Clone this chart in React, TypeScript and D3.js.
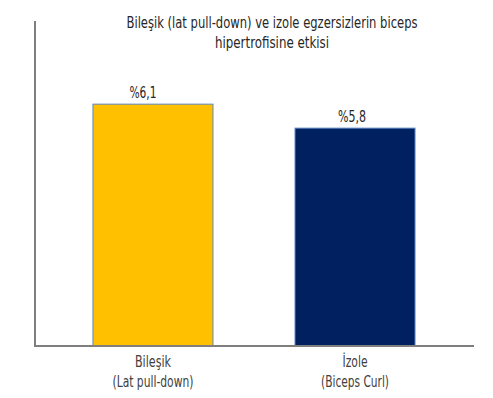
import React from "react";
import * as d3 from "d3";

const categories: string[][] = [["Bileşik", "(Lat pull-down)"], ["İzole", "(Biceps Curl)"]];
const values: number[] = [6.1, 5.8];
const valueLabels: string[] = ["%6,1", "%5,8"];
const colors: string[] = ["#FFC000", "#002060"];
const titleLines: string[] = ["Bileşik (lat pull-down) ve izole egzersizlerin biceps", "hipertrofisine etkisi"];

const W = 493;
const H = 398;
const FONT = "'DejaVu Sans Condensed', 'Liberation Sans Narrow', sans-serif";

// measured text widths for the condensed typeface of the original
const titleWidths = [291, 114];
const catWidths = [[36, 81], [25, 68]];
const valueWidths = [27, 28];
const valueOffsets = [-10, -3];

export default function App() {
  const axisX = 35;
  const axisTop = 21;
  const axisBottom = 346;
  const axisRight = 474;
  const x = d3.scaleBand<number>().domain(d3.range(values.length)).range([37, 471]).paddingInner(0.406).paddingOuter(0.277);
  const y = d3.scaleLinear().domain([3.075, 7.14]).range([axisBottom, axisTop]);
  const bw = x.bandwidth();
  return (
    <svg width={W} height={H} style={{ position: "absolute", left: 0, top: 0, background: "#fff" }} fontFamily={FONT}>
      <rect x={0} y={0} width={W} height={H} fill="#fff" />
      {titleLines.map((t, i) => (
        <text key={i} x={272} y={28 + i * 19.5} textAnchor="middle" fontSize={15} fill="#262626"
          textLength={titleWidths[i]} lengthAdjust="spacingAndGlyphs">{t}</text>
      ))}
      {values.map((v, i) => {
        const x0 = x(i) as number;
        const cx = x0 + bw / 2;
        return (
          <g key={i}>
            <rect x={x0} y={y(v)} width={bw} height={axisBottom - y(v)} fill={colors[i]} stroke="#5B86C5" strokeWidth={1} />
            <text x={cx + valueOffsets[i]} y={y(v) - 6} textAnchor="middle" fontSize={15} fill="#262626"
              textLength={valueWidths[i]} lengthAdjust="spacingAndGlyphs">{valueLabels[i]}</text>
            {categories[i].map((c, j) => (
              <text key={j} x={cx} y={367 + j * 20} textAnchor="middle" fontSize={15} fill="#404040"
                textLength={catWidths[i][j]} lengthAdjust="spacingAndGlyphs">{c}</text>
            ))}
          </g>
        );
      })}
      <line x1={axisX} y1={axisTop} x2={axisX} y2={axisBottom} stroke="#7f7f7f" strokeWidth={2} />
      <line x1={axisX - 1} y1={axisBottom} x2={axisRight} y2={axisBottom} stroke="#7f7f7f" strokeWidth={2} />
    </svg>
  );
}
